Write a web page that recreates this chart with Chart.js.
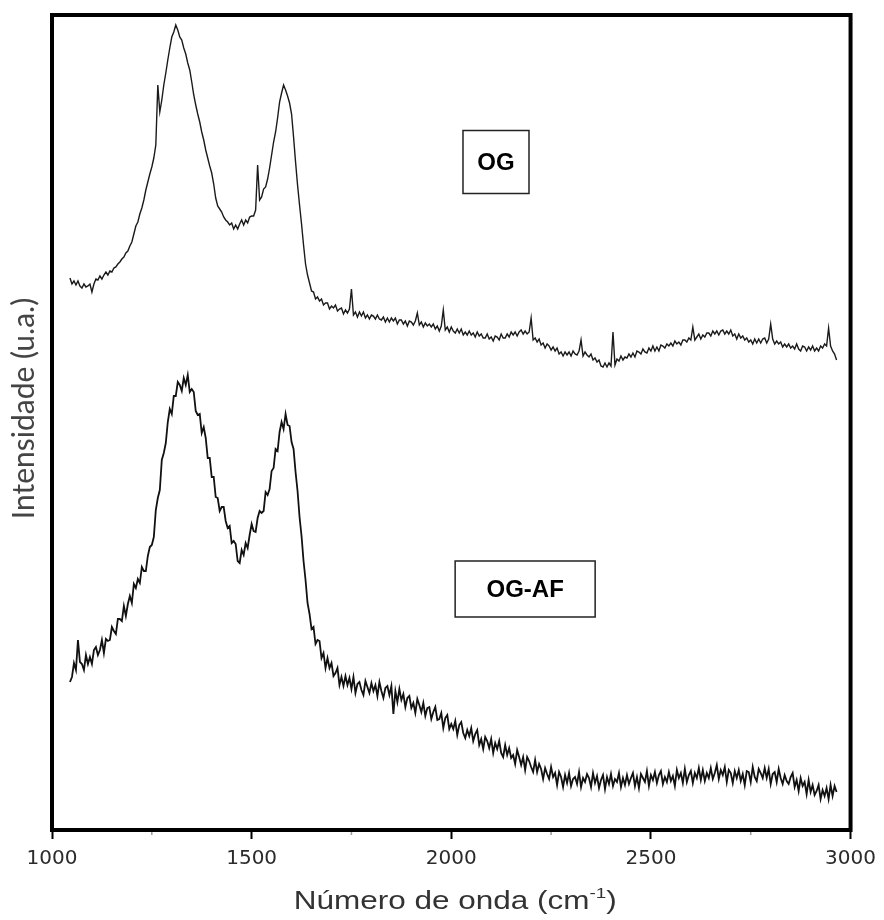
<!DOCTYPE html>
<html>
<head>
<meta charset="utf-8">
<title>Raman OG / OG-AF</title>
<script src="https://cdn.jsdelivr.net/npm/chart.js@4.4.1/dist/chart.umd.min.js"></script>
<style>
  html, body { margin: 0; padding: 0; background: #fff; }
  #wrap { width: 884px; height: 920px; }
</style>
</head>
<body>
<div id="wrap"><canvas id="raman" width="884" height="920"></canvas></div>
<script>
// sampling grid of the spectra (cm-1)
const startWn = 1045;
const stepWn = 5;

// intensity (u.a.) of OG, one value every 5 cm-1, rows of 100 cm-1
const ogIntensity = [
  552, 546, 549, 545, 549, 544, 542, 546, 543, 544, 546, 538, 546, 551, 550, 554, 551, 555, 558, 555,
  559, 558, 562, 563, 566, 568, 571, 573, 577, 579, 584, 588, 596, 604, 608, 616, 622, 630, 640, 648,
  656, 663, 672, 685, 745, 718, 730, 745, 757, 770, 782, 793, 798, 805, 800, 793, 790, 782, 776, 767,
  760, 748, 735, 725, 716, 708, 698, 690, 680, 672, 664, 657, 646, 632, 624, 621, 618, 613, 610, 608,
  605, 607, 601, 605, 601, 606, 610, 605, 610, 607, 613, 614, 614, 620, 665, 630, 633, 641, 643, 651,
  662, 675, 688, 698, 712, 728, 737, 745, 740, 734, 727, 716, 693, 668, 645, 625, 606, 585, 566, 555,
  547, 539, 538, 531, 533, 529, 531, 525, 527, 527, 521, 524, 522, 525, 519, 521, 522, 516, 520, 517,
  521, 541, 515, 518, 513, 518, 514, 518, 512, 515, 511, 515, 514, 511, 515, 511, 510, 513, 508, 512,
  508, 512, 509, 512, 506, 510, 510, 506, 509, 504, 509, 508, 505, 509, 517, 505, 508, 503, 507, 504,
  506, 503, 506, 501, 504, 499, 504, 520, 500, 503, 498, 503, 499, 497, 501, 497, 501, 495, 498, 495,
  499, 495, 497, 493, 498, 494, 496, 492, 492, 496, 491, 493, 489, 494, 493, 490, 496, 492, 492, 496,
  493, 498, 495, 498, 494, 498, 500, 496, 499, 496, 498, 512, 490, 492, 488, 491, 485, 487, 482, 486,
  484, 480, 483, 479, 482, 476, 478, 474, 478, 475, 478, 474, 479, 476, 475, 479, 490, 474, 478, 475,
  473, 476, 470, 472, 468, 470, 464, 463, 467, 463, 467, 464, 498, 465, 471, 469, 474, 470, 473, 472,
  476, 473, 477, 473, 479, 478, 476, 481, 478, 477, 482, 479, 484, 479, 483, 479, 485, 484, 482, 486,
  484, 487, 484, 489, 486, 488, 485, 490, 490, 488, 492, 490, 503, 490, 493, 496, 491, 495, 493, 497,
  497, 494, 499, 496, 499, 495, 499, 500, 496, 499, 496, 500, 494, 496, 491, 496, 492, 494, 490, 492,
  488, 490, 486, 491, 487, 491, 487, 491, 492, 487, 491, 506, 491, 486, 489, 486, 488, 483, 486, 483,
  486, 482, 484, 481, 486, 481, 479, 484, 483, 479, 483, 480, 484, 479, 482, 479, 484, 482, 486, 484,
  502, 484, 479, 476, 470
];

// intensity (u.a.) of OG-AF, same grid
const ogafIntensity = [
  148, 153, 167, 160, 190, 168, 166, 160, 175, 166, 173, 166, 180, 183, 175, 180, 190, 177, 191, 189,
  190, 203, 199, 196, 211, 211, 209, 224, 214, 226, 234, 227, 246, 242, 251, 247, 263, 259, 259, 274,
  283, 285, 293, 320, 332, 340, 370, 377, 387, 408, 421, 416, 434, 434, 448, 445, 439, 452, 445, 455,
  438, 441, 438, 419, 415, 416, 397, 403, 392, 372, 372, 353, 353, 333, 332, 319, 323, 323, 309, 302,
  304, 287, 289, 286, 269, 267, 280, 275, 287, 282, 295, 306, 299, 298, 312, 319, 317, 319, 338, 335,
  341, 359, 362, 381, 379, 398, 408, 401, 416, 405, 404, 388, 381, 358, 339, 313, 294, 269, 250, 227,
  216, 201, 203, 186, 190, 189, 172, 177, 162, 172, 162, 167, 154, 157, 162, 145, 153, 144, 154, 145,
  152, 141, 153, 137, 146, 148, 140, 135, 149, 143, 137, 147, 139, 145, 134, 148, 139, 132, 142, 144,
  135, 144, 116, 139, 128, 141, 130, 136, 123, 132, 134, 122, 127, 117, 131, 125, 118, 127, 114, 122,
  123, 111, 118, 123, 110, 111, 117, 102, 112, 115, 101, 106, 101, 109, 95, 105, 108, 97, 92, 100,
  94, 102, 89, 96, 100, 85, 91, 81, 93, 89, 82, 91, 77, 87, 81, 89, 77, 73, 85, 75,
  82, 72, 75, 66, 80, 73, 65, 73, 60, 73, 69, 63, 58, 70, 58, 66, 61, 51, 62, 56,
  51, 63, 53, 57, 45, 58, 53, 43, 55, 47, 57, 44, 51, 53, 46, 58, 43, 52, 48, 56,
  52, 43, 57, 47, 54, 42, 50, 55, 41, 53, 46, 56, 44, 51, 48, 57, 43, 52, 45, 55,
  46, 52, 57, 44, 53, 42, 56, 52, 48, 59, 44, 55, 50, 58, 47, 55, 59, 46, 53, 48,
  58, 49, 54, 44, 60, 52, 57, 47, 61, 48, 55, 59, 47, 57, 52, 62, 50, 60, 49, 57,
  52, 62, 51, 57, 65, 51, 60, 55, 63, 48, 60, 57, 47, 59, 52, 60, 49, 56, 45, 59,
  58, 48, 63, 53, 49, 61, 57, 52, 62, 52, 61, 46, 56, 58, 48, 61, 52, 46, 55, 49,
  46, 53, 57, 43, 50, 39, 52, 44, 48, 36, 50, 38, 45, 35, 39, 45, 31, 40, 34, 42,
  31, 45, 34, 44, 38
];

const xTicks = [1000, 1500, 2000, 2500, 3000];
const xMinorTicks = [1250, 1750, 2250, 2750];

// sample labels, anchored in data coordinates
const sampleLabels = [
  { text: 'OG', wn: 2112, y: 668, w: 66, h: 63 },
  { text: 'OG-AF', wn: 2185, y: 241, w: 140, h: 56 }
];

function toPoints(values) {
  return values.map((v, i) => ({ x: startWn + i * stepWn, y: v }));
}

const framePlugin = {
  id: 'frame',
  afterDraw(chart) {
    const { ctx, chartArea: a, scales } = chart;
    const xs = scales.x, ys = scales.y;
    ctx.save();

    // minor ticks
    ctx.strokeStyle = '#999';
    ctx.lineWidth = 1.5;
    xMinorTicks.forEach(t => {
      const px = xs.getPixelForValue(t);
      ctx.beginPath();
      ctx.moveTo(px, a.bottom);
      ctx.lineTo(px, a.bottom + 5);
      ctx.stroke();
    });

    // thick box round the plot
    ctx.strokeStyle = '#000';
    ctx.lineWidth = 4;
    ctx.strokeRect(a.left, a.top, a.right - a.left, a.bottom - a.top);

    // sample label boxes
    sampleLabels.forEach(l => {
      const cx = xs.getPixelForValue(l.wn);
      const cy = ys.getPixelForValue(l.y);
      ctx.lineWidth = 1.5;
      ctx.strokeStyle = '#222';
      ctx.fillStyle = '#fff';
      ctx.fillRect(cx - l.w / 2, cy - l.h / 2, l.w, l.h);
      ctx.strokeRect(cx - l.w / 2, cy - l.h / 2, l.w, l.h);
      ctx.fillStyle = '#000';
      ctx.font = 'bold 24px "Liberation Sans", Arial, sans-serif';
      ctx.textAlign = 'center';
      ctx.textBaseline = 'middle';
      ctx.fillText(l.text, cx, cy + 1);
    });

    // x axis title with superscript, drawn slightly stretched
    ctx.save();
    ctx.fillStyle = '#333';
    ctx.textBaseline = 'alphabetic';
    ctx.textAlign = 'left';
    const mainFont = '25px "Liberation Sans", Arial, sans-serif';
    const supFont = '15px "Liberation Sans", Arial, sans-serif';
    const part1 = 'Número de onda (cm', sup = '-1', part2 = ')';
    ctx.font = mainFont;
    const w1 = ctx.measureText(part1).width, w3 = ctx.measureText(part2).width;
    ctx.font = supFont;
    const w2 = ctx.measureText(sup).width;
    const stretch = 1.26;
    ctx.translate((a.left + a.right) / 2 + 4, 909);
    ctx.scale(stretch, 1);
    const x0 = -(w1 + w2 + w3) / 2;
    ctx.font = mainFont;
    ctx.fillText(part1, x0, 0);
    ctx.font = supFont;
    ctx.fillText(sup, x0 + w1, -11);
    ctx.font = mainFont;
    ctx.fillText(part2, x0 + w1 + w2, 0);
    ctx.restore();

    // y axis title
    ctx.translate(24, (a.top + a.bottom) / 2 - 14);
    ctx.rotate(-Math.PI / 2);
    ctx.textAlign = 'center';
    ctx.textBaseline = 'middle';
    ctx.font = '30px Lato, "Liberation Sans", sans-serif';
    ctx.fillStyle = '#444';
    ctx.fillText('Intensidade (u.a.)', 0, 0);
    ctx.restore();
  }
};

const ctx = document.getElementById('raman').getContext('2d');
new Chart(ctx, {
  type: 'line',
  data: {
    datasets: [
      {
        label: 'OG',
        data: toPoints(ogIntensity),
        borderColor: '#1a1a1a',
        borderWidth: 1.4,
        pointRadius: 0,
        tension: 0
      },
      {
        label: 'OG-AF',
        data: toPoints(ogafIntensity),
        borderColor: '#111',
        borderWidth: 1.8,
        pointRadius: 0,
        tension: 0
      }
    ]
  },
  options: {
    responsive: false,
    animation: false,
    devicePixelRatio: 1,
    layout: { padding: { left: 52, right: 32, top: 15, bottom: 0 } },
    plugins: {
      legend: { display: false },
      tooltip: { enabled: false }
    },
    scales: {
      x: {
        type: 'linear',
        min: 1000,
        max: 3000,
        afterBuildTicks: scale => {
          scale.ticks = xTicks.map(v => ({ value: v }));
        },
        afterFit: scale => { scale.height = 90; },
        ticks: {
          color: '#2b2b2b',
          padding: 8,
          maxRotation: 0,
          font: { family: '"DejaVu Sans", sans-serif', size: 20 },
          callback: v => String(v)
        },
        grid: {
          drawOnChartArea: false,
          drawTicks: true,
          tickLength: 9,
          tickColor: '#000',
          tickWidth: 2
        },
        border: { display: false }
      },
      y: {
        display: false,
        min: 0,
        max: 815
      }
    }
  },
  plugins: [framePlugin]
});
</script>
</body>
</html>
